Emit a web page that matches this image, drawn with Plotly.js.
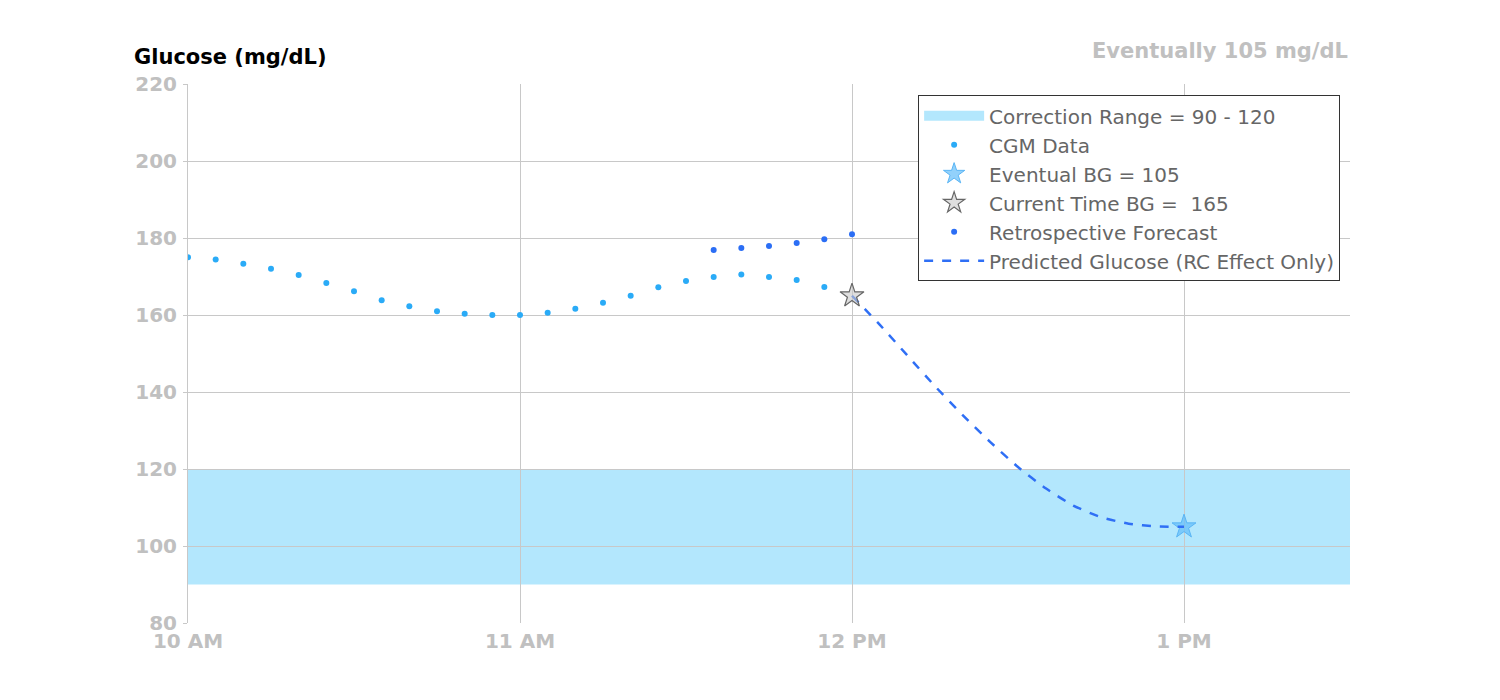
<!DOCTYPE html>
<html>
<head>
<meta charset="utf-8">
<script src="https://cdn.plot.ly/plotly-3.0.1.min.js"></script>
<style>body{margin:0;background:#fff}#chart{width:1500px;height:700px}</style>
</head>
<body>
<div id="chart"></div>
<script>
const day = '2024-01-01 ';
function times(startH, startM, n) {
    const out = [];
    for (let i = 0; i < n; i++) {
        const m = startH * 60 + startM + i * 5;
        const h = Math.floor(m / 60), mm = m % 60;
        out.push(day + String(h).padStart(2, '0') + ':' + String(mm).padStart(2, '0') + ':00');
    }
    return out;
}

const cgmValues = [175, 174.4, 173.3, 172, 170.4, 168.3, 166.2, 163.8, 162.3, 161, 160.3, 160,
    160, 160.6, 161.6, 163.2, 165, 167.2, 168.8, 169.9, 170.5, 169.9, 169.1, 167.3];
const retroValues = [176.9, 177.4, 177.9, 178.7, 179.7, 181.0];
const predictedValues = [165, 157.5, 149.5, 141.5, 134, 127, 120.5, 115, 110.5, 107.5, 105.8, 105.1, 105];
const cgmTimes = times(10, 0, cgmValues.length);
const retroTimes = times(11, 35, retroValues.length);
const predictedTimes = times(12, 0, predictedValues.length);
const rangeLow = 90, rangeHigh = 120;
const currentBG = 165, eventualBG = 105;

const traces = [
    {x: [null], y: [null], mode: 'lines', name: 'Correction Range = ' + rangeLow + ' - ' + rangeHigh,
     line: {color: '#b3e7fd', width: 14}},
    {x: cgmTimes, y: cgmValues, mode: 'markers', name: 'CGM Data',
     marker: {color: '#2aabf7', size: 6}},
    {x: [predictedTimes[predictedTimes.length - 1]], y: [eventualBG], mode: 'markers', name: 'Eventual BG = ' + eventualBG,
     marker: {symbol: 'star', size: 18, color: 'rgba(100,190,250,0.7)', line: {color: '#5ab5f5', width: 1}}},
    {x: retroTimes, y: retroValues, mode: 'markers', name: 'Retrospective Forecast',
     marker: {color: '#2b6ef5', size: 6}},
    {x: predictedTimes, y: predictedValues, mode: 'lines', name: 'Predicted Glucose (RC Effect Only)',
     line: {color: '#2f6ff5', width: 2.5, dash: 'dash', shape: 'spline', smoothing: 0.6}},
    {x: [predictedTimes[0]], y: [currentBG], mode: 'markers', name: 'Current Time BG =  ' + currentBG,
     marker: {symbol: 'star', size: 18, color: 'rgba(200,200,200,0.6)', line: {color: '#666', width: 1.2}}}
];
// legend order to match reference
const order = [0, 1, 2, 5, 3, 4];
order.forEach((idx, i) => { traces[idx].legendrank = i + 1; });

const tickFont = {size: 20, color: '#c0c0c0', family: 'DejaVu Sans', weight: 'bold'};

const layout = {
    width: 1500, height: 700,
    margin: {l: 188, r: 150, t: 84, b: 77},
    paper_bgcolor: '#fff', plot_bgcolor: '#fff',
    font: {family: 'DejaVu Sans', color: '#666'},
    showlegend: true,
    legend: {x: 0.9915, y: 0.979, xanchor: 'right', yanchor: 'top', bgcolor: '#fff',
        bordercolor: '#333', borderwidth: 1, font: {size: 20, color: '#666'}, tracegroupgap: 0,
        itemwidth: 60},
    xaxis: {type: 'date', range: [day + '10:00:00', day + '13:30:00'], dtick: 3600000,
        tick0: day + '10:00:00', tickformat: '%-I %p', showgrid: true, gridcolor: '#c8c8c8',
        zeroline: false, showline: false, ticks: '', ticklabelstandoff: 4, tickfont: tickFont},
    yaxis: {range: [80, 220], dtick: 20, gridcolor: '#c8c8c8', zeroline: false, ticks: 'outside',
        ticklen: 4, tickcolor: '#c8c8c8', showline: true, linecolor: '#c8c8c8',
        ticklabelstandoff: 2, tickfont: tickFont},
    shapes: [{type: 'rect', xref: 'paper', x0: 0, x1: 1, yref: 'y', y0: rangeLow, y1: rangeHigh,
        fillcolor: '#b3e7fd', line: {width: 0}, layer: 'below'}],
    annotations: [
        {text: 'Glucose (mg/dL)', xref: 'paper', yref: 'paper', x: -0.0485, y: 1.025, xanchor: 'left', yanchor: 'bottom',
         showarrow: false, font: {size: 21, color: '#000', family: 'DejaVu Sans', weight: 'bold'}},
        {text: 'Eventually ' + eventualBG + ' mg/dL', xref: 'paper', yref: 'paper', x: 1, y: 1.035, xanchor: 'right', yanchor: 'bottom',
         showarrow: false, font: {size: 21, color: '#c0c0c0', family: 'DejaVu Sans', weight: 'bold'}}
    ]
};

Plotly.newPlot('chart', traces, layout, {displayModeBar: false});
</script>
</body>
</html>
